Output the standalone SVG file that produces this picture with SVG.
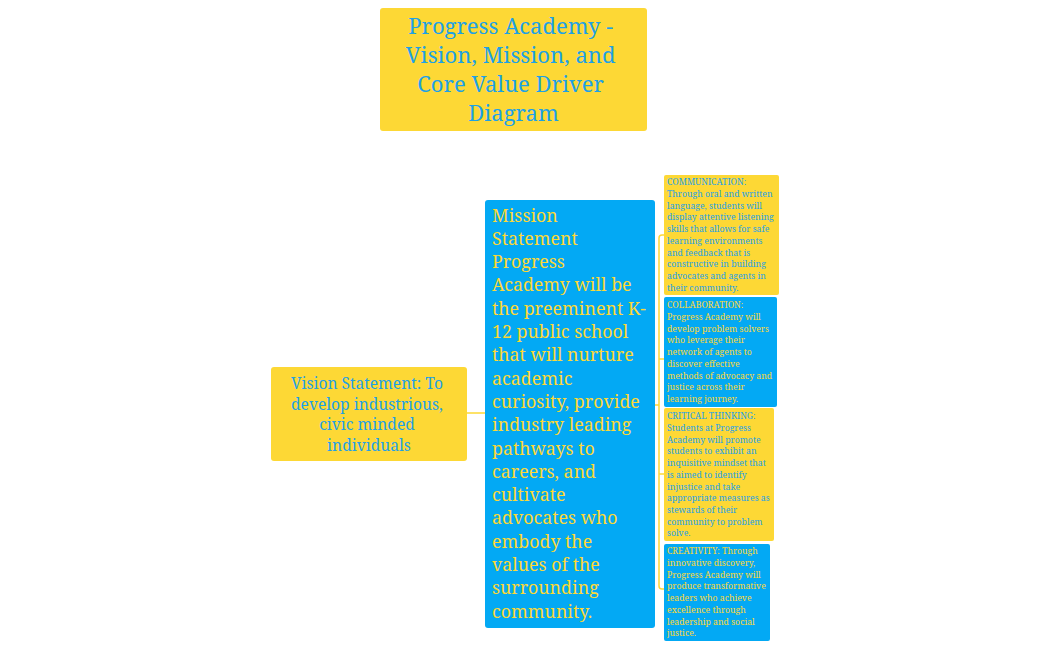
<svg xmlns="http://www.w3.org/2000/svg" width="1050" height="650" viewBox="0 0 1050 650">
<style>
.y{fill:#FDD835}
.b{fill:#03A9F4}
.t{font-family:"Noto Serif","DejaVu Serif","Liberation Serif",serif}
.ty{fill:#FDD835}
.tb{fill:#1DA1E6}
.c{fill:none;stroke:#FDD835;stroke-width:1.5}
</style>
<rect width="1050" height="650" fill="#ffffff"/>
<g id="connectors">
<path class="c" d="M467,413 H485"/>
<path class="c" d="M655,405 H659"/>
<path class="c" d="M664,235 H662 Q659,235 659,238 V586 Q659,589 662,589 H664"/>
<path class="c" d="M659,359 H664"/>
<path class="c" d="M659,474 H664"/>
</g>
<g id="title">
<rect class="y" x="380" y="8" width="267" height="123" rx="3"/>
<text class="t tb" font-size="22" text-anchor="middle">
<tspan x="513.5" y="34">Progress Academy -</tspan>
<tspan x="513.5" y="63">Vision, Mission, and</tspan>
<tspan x="513.5" y="92">Core Value Driver</tspan>
<tspan x="513.5" y="121">Diagram</tspan>
</text>
</g>
<g id="vision">
<rect class="y" x="271" y="367" width="196" height="94" rx="3"/>
<text class="t tb" font-size="15.6" text-anchor="middle">
<tspan x="369" y="389">Vision Statement: To</tspan>
<tspan x="369" y="409.5">develop industrious,</tspan>
<tspan x="369" y="430">civic minded</tspan>
<tspan x="369" y="450.5">individuals</tspan>
</text>
</g>
<g id="mission">
<rect class="b" x="485" y="200" width="170" height="428" rx="3"/>
<text class="t ty" font-size="17.8">
<tspan x="492" y="221.5">Mission</tspan>
<tspan x="492" y="244.8">Statement</tspan>
<tspan x="492" y="268.1">Progress</tspan>
<tspan x="492" y="291.4">Academy will be</tspan>
<tspan x="492" y="314.7">the preeminent K-</tspan>
<tspan x="492" y="338">12 public school</tspan>
<tspan x="492" y="361.3">that will nurture</tspan>
<tspan x="492" y="384.6">academic</tspan>
<tspan x="492" y="407.9">curiosity, provide</tspan>
<tspan x="492" y="431.2">industry leading</tspan>
<tspan x="492" y="454.5">pathways to</tspan>
<tspan x="492" y="477.8">careers, and</tspan>
<tspan x="492" y="501.1">cultivate</tspan>
<tspan x="492" y="524.4">advocates who</tspan>
<tspan x="492" y="547.7">embody the</tspan>
<tspan x="492" y="571">values of the</tspan>
<tspan x="492" y="594.3">surrounding</tspan>
<tspan x="492" y="617.6">community.</tspan>
</text>
</g>
<g id="communication">
<rect class="y" x="664" y="175" width="115" height="120" rx="2"/>
<text class="t tb" font-size="8.7">
<tspan x="667" y="185.3">COMMUNICATION:</tspan>
<tspan x="667" y="197">Through oral and written</tspan>
<tspan x="667" y="208.7">language, students will</tspan>
<tspan x="667" y="220.4">display attentive listening</tspan>
<tspan x="667" y="232.1">skills that allows for safe</tspan>
<tspan x="667" y="243.8">learning environments</tspan>
<tspan x="667" y="255.5">and feedback that is</tspan>
<tspan x="667" y="267.2">constructive in building</tspan>
<tspan x="667" y="278.9">advocates and agents in</tspan>
<tspan x="667" y="290.6">their community.</tspan>
</text>
</g>
<g id="collaboration">
<rect class="b" x="664" y="297" width="113" height="110" rx="2"/>
<text class="t ty" font-size="8.7">
<tspan x="667" y="308.3">COLLABORATION:</tspan>
<tspan x="667" y="320">Progress Academy will</tspan>
<tspan x="667" y="331.7">develop problem solvers</tspan>
<tspan x="667" y="343.4">who leverage their</tspan>
<tspan x="667" y="355.1">network of agents to</tspan>
<tspan x="667" y="366.8">discover effective</tspan>
<tspan x="667" y="378.5">methods of advocacy and</tspan>
<tspan x="667" y="390.2">justice across their</tspan>
<tspan x="667" y="401.9">learning journey.</tspan>
</text>
</g>
<g id="critical-thinking">
<rect class="y" x="664" y="408" width="110" height="133" rx="2"/>
<text class="t tb" font-size="8.7">
<tspan x="667" y="419.3">CRITICAL THINKING:</tspan>
<tspan x="667" y="431">Students at Progress</tspan>
<tspan x="667" y="442.7">Academy will promote</tspan>
<tspan x="667" y="454.4">students to exhibit an</tspan>
<tspan x="667" y="466.1">inquisitive mindset that</tspan>
<tspan x="667" y="477.8">is aimed to identify</tspan>
<tspan x="667" y="489.5">injustice and take</tspan>
<tspan x="667" y="501.2">appropriate measures as</tspan>
<tspan x="667" y="512.9">stewards of their</tspan>
<tspan x="667" y="524.6">community to problem</tspan>
<tspan x="667" y="536.3">solve.</tspan>
</text>
</g>
<g id="creativity">
<rect class="b" x="664" y="544" width="106" height="97" rx="2"/>
<text class="t ty" font-size="8.7">
<tspan x="667" y="554.3">CREATIVITY: Through</tspan>
<tspan x="667" y="566">innovative discovery,</tspan>
<tspan x="667" y="577.7">Progress Academy will</tspan>
<tspan x="667" y="589.4">produce transformative</tspan>
<tspan x="667" y="601.1">leaders who achieve</tspan>
<tspan x="667" y="612.8">excellence through</tspan>
<tspan x="667" y="624.5">leadership and social</tspan>
<tspan x="667" y="636.2">justice.</tspan>
</text>
</g>
</svg>
